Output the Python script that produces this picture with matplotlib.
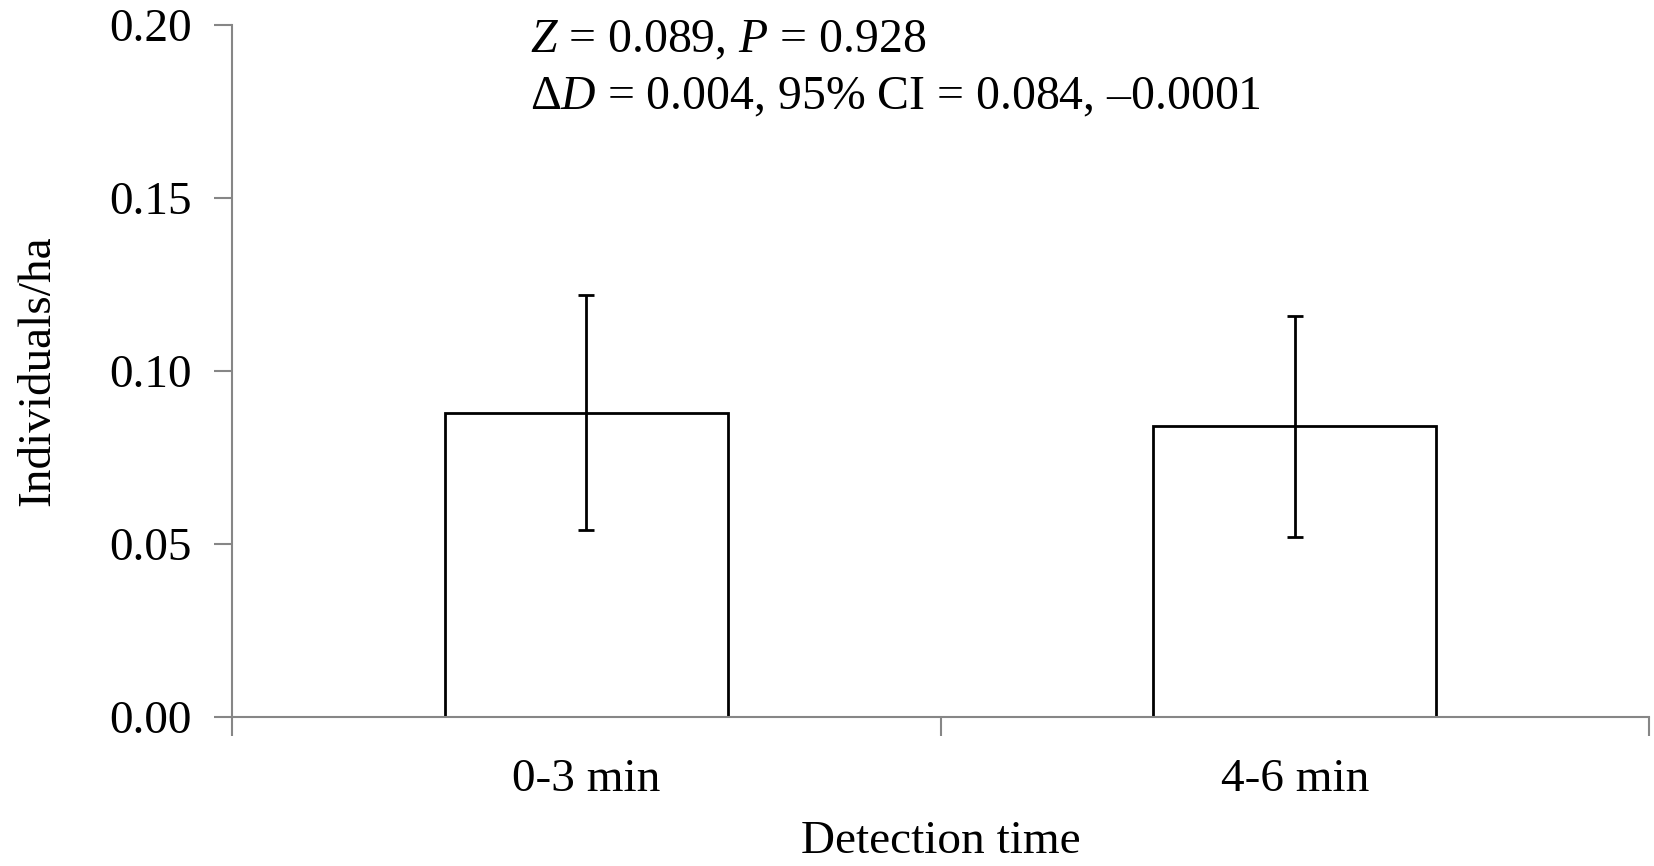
import numpy as np
import matplotlib
matplotlib.use("Agg")
import matplotlib.pyplot as plt
from matplotlib import rcParams

rcParams['font.family'] = 'Liberation Serif'
rcParams['mathtext.fontset'] = 'custom'
rcParams['mathtext.rm'] = 'Liberation Serif'
rcParams['mathtext.it'] = 'Liberation Serif:italic'

categories = ["0-3 min", "4-6 min"]
density = [0.088, 0.084]
ci_upper = [0.122, 0.116]
ci_lower = [0.054, 0.052]
yticks = [0.00, 0.05, 0.10, 0.15, 0.20]

axis_grey = '#868686'
fsize = 34

fig = plt.figure(figsize=(16.54, 8.66), dpi=100)
ax = fig.add_axes([0.1403, 0.172, 0.997 - 0.1403, 0.9711 - 0.172])

x = np.arange(len(categories))
dens = np.array(density)
err = [dens - np.array(ci_lower), np.array(ci_upper) - dens]

ax.bar(x, dens, width=0.4, color='white', edgecolor='black', linewidth=2, zorder=2)
ax.errorbar(x, dens, yerr=err, fmt='none', ecolor='black', elinewidth=2,
            capsize=6, capthick=2, zorder=3)

ax.set_xlim(-0.5, len(categories) - 0.5)
ax.set_ylim(0, 0.2)
ax.set_yticks(yticks)
ax.set_yticklabels(["%.2f" % v for v in yticks], fontsize=fsize)

# category labels centred, ticks between categories (Excel style)
ax.set_xticks(np.arange(-0.5, len(categories)), minor=False)
ax.set_xticklabels([])
ax.set_xticks(x, minor=True)
ax.set_xticklabels(categories, minor=True, fontsize=fsize)
ax.tick_params(axis='x', which='minor', length=0, pad=30)
ax.tick_params(axis='x', which='major', length=14, width=1.5, color=axis_grey)
ax.tick_params(axis='y', length=13, width=1.5, color=axis_grey, pad=16)

for side in ['top', 'right']:
    ax.spines[side].set_visible(False)
for side in ['left', 'bottom']:
    ax.spines[side].set_color(axis_grey)
    ax.spines[side].set_linewidth(1.5)
ax.spines['bottom'].set_zorder(4)

ax.set_ylabel("Individuals/ha", fontsize=fsize, labelpad=36)
ax.set_xlabel("Detection time", fontsize=fsize, labelpad=14)

ax.text(530 / 1654, 1 - 40 / 866, r"$Z$ = 0.089, $P$ = 0.928",
        transform=fig.transFigure, fontsize=34.4, ha='left', va='center')
ax.text(530 / 1654, 1 - 97 / 866, "\u0394" + r"$D$ = 0.004, 95% CI = 0.084, " + "\u20130.0001",
        transform=fig.transFigure, fontsize=34.4, ha='left', va='center')

fig.savefig("out.png", dpi=100)
